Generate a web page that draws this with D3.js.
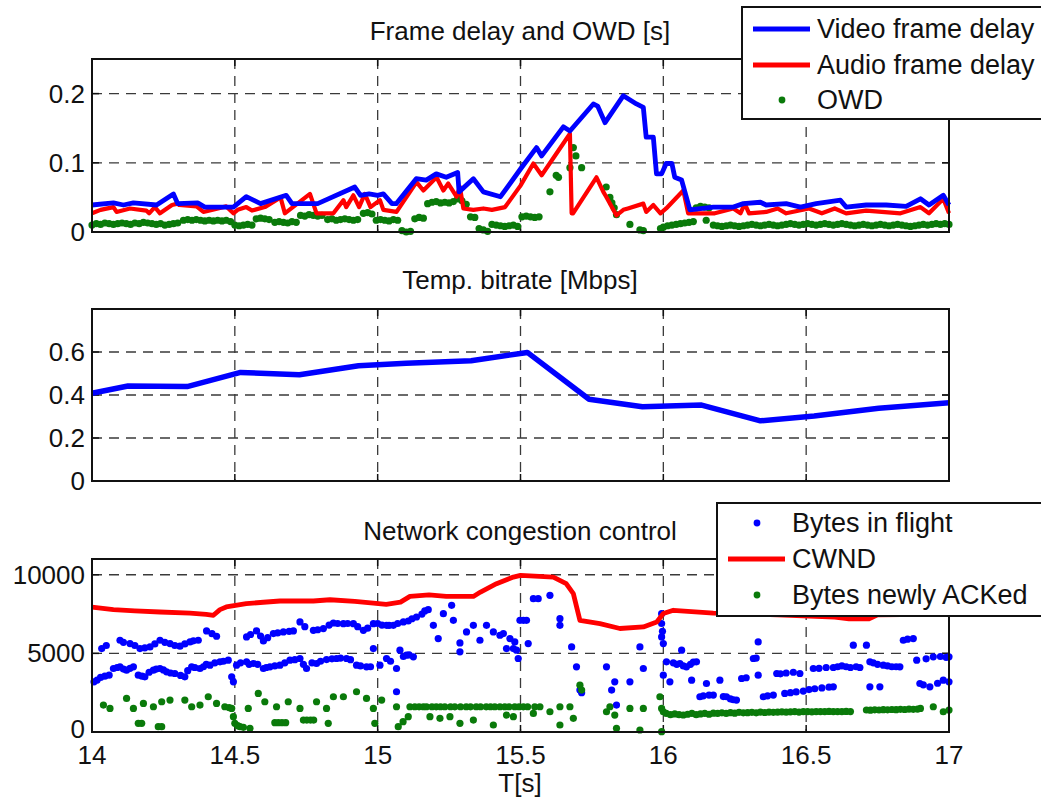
<!DOCTYPE html>
<meta charset="utf-8">
<style>
body { margin: 0; background: #fff; }
svg text { font-family: "Liberation Sans", Arial, Helvetica, sans-serif; fill: #111; }
.grid line { stroke: #3a3a3a; stroke-width: 1.3; stroke-dasharray: 10,7; }
</style>
<svg width="1041" height="798"></svg>
<script src="https://d3js.org/d3.v7.min.js"></script>
<script>

// ---- shared x axis
var xTicks = [14, 14.5, 15, 15.5, 16, 16.5, 17];

// ---- panel 1: frame delay and OWD [s]
var videoT = [14.00, 14.075, 14.11, 14.145, 14.226, 14.285, 14.30, 14.37, 14.395, 14.495, 14.54, 14.59, 14.68, 14.70, 14.79, 14.92, 14.94, 14.97, 15.00, 15.02, 15.05, 15.065, 15.135, 15.17, 15.205, 15.24, 15.28, 15.285, 15.335, 15.37, 15.43, 15.50, 15.556, 15.574, 15.65, 15.673, 15.755, 15.77, 15.796, 15.86, 15.906, 15.93, 15.94, 15.965, 15.976, 15.994, 16.01, 16.03, 16.04, 16.064, 16.093, 16.175, 16.245, 16.28, 16.34, 16.36, 16.43, 16.48, 16.535, 16.62, 16.64, 16.71, 16.78, 16.85, 16.90, 16.93, 16.98, 17.00];
var videoDelay = [0.039, 0.042, 0.039, 0.042, 0.039, 0.055, 0.041, 0.042, 0.036, 0.036, 0.051, 0.041, 0.053, 0.041, 0.041, 0.065, 0.053, 0.055, 0.053, 0.055, 0.041, 0.041, 0.077, 0.075, 0.084, 0.079, 0.086, 0.058, 0.077, 0.058, 0.051, 0.091, 0.122, 0.110, 0.152, 0.146, 0.185, 0.182, 0.158, 0.197, 0.185, 0.180, 0.137, 0.137, 0.084, 0.084, 0.099, 0.099, 0.079, 0.075, 0.032, 0.036, 0.036, 0.041, 0.043, 0.039, 0.041, 0.036, 0.041, 0.046, 0.036, 0.039, 0.039, 0.037, 0.048, 0.039, 0.053, 0.039];

var audioT = [14.00, 14.03, 14.075, 14.086, 14.133, 14.19, 14.20, 14.22, 14.238, 14.28, 14.30, 14.305, 14.366, 14.39, 14.47, 14.495, 14.51, 14.54, 14.56, 14.605, 14.66, 14.675, 14.763, 14.786, 14.845, 14.88, 14.89, 14.915, 14.935, 14.955, 14.975, 15.008, 15.02, 15.066, 15.136, 15.16, 15.206, 15.23, 15.247, 15.276, 15.288, 15.30, 15.335, 15.37, 15.40, 15.446, 15.50, 15.545, 15.574, 15.673, 15.679, 15.684, 15.766, 15.79, 15.80, 15.836, 15.86, 15.876, 15.93, 15.94, 15.965, 15.99, 16.01, 16.07, 16.087, 16.18, 16.245, 16.27, 16.285, 16.30, 16.36, 16.40, 16.43, 16.51, 16.555, 16.60, 16.64, 16.71, 16.83, 16.90, 16.93, 16.98, 17.00];
var audioDelay = [0.027, 0.032, 0.036, 0.029, 0.034, 0.031, 0.027, 0.036, 0.027, 0.039, 0.041, 0.039, 0.037, 0.029, 0.037, 0.027, 0.032, 0.036, 0.031, 0.036, 0.050, 0.027, 0.055, 0.027, 0.027, 0.046, 0.036, 0.053, 0.036, 0.055, 0.036, 0.046, 0.032, 0.029, 0.072, 0.060, 0.079, 0.060, 0.070, 0.051, 0.065, 0.034, 0.032, 0.034, 0.032, 0.036, 0.067, 0.099, 0.082, 0.142, 0.027, 0.027, 0.079, 0.058, 0.051, 0.024, 0.032, 0.034, 0.041, 0.029, 0.039, 0.027, 0.034, 0.060, 0.027, 0.027, 0.034, 0.027, 0.041, 0.027, 0.029, 0.034, 0.027, 0.034, 0.027, 0.034, 0.027, 0.031, 0.027, 0.036, 0.027, 0.048, 0.027];

var owdPoints = [
  [14.000,.010],[14.015,.012],[14.030,.011],[14.045,.013],[14.060,.012],[14.075,.011],[14.090,.012],[14.105,.013],[14.120,.012],[14.135,.011],
  [14.150,.013],[14.165,.012],[14.180,.014],[14.195,.013],[14.210,.012],[14.225,.011],[14.240,.012],[14.255,.010],[14.270,.011],[14.285,.012],
  [14.300,.013],[14.320,.017],[14.335,.018],[14.350,.017],[14.365,.018],[14.380,.017],[14.395,.016],[14.410,.017],[14.425,.016],[14.440,.017],
  [14.455,.016],[14.470,.017],[14.485,.015],[14.500,.010],[14.515,.009],[14.530,.010],[14.545,.011],[14.560,.010],[14.575,.019],[14.590,.020],
  [14.605,.019],[14.620,.018],[14.640,.014],[14.655,.015],[14.670,.014],[14.685,.013],[14.700,.015],[14.715,.014],[14.730,.024],[14.745,.023],
  [14.760,.025],[14.775,.024],[14.790,.023],[14.805,.024],[14.825,.018],[14.840,.019],[14.855,.017],[14.870,.018],[14.885,.019],[14.900,.018],
  [14.915,.017],[14.930,.018],[14.950,.027],[14.965,.028],[14.980,.026],[14.995,.017],[15.010,.018],[15.025,.017],[15.040,.016],[15.055,.018],
  [15.070,.017],[15.085,.002],[15.100,.000],[15.115,.001],[15.130,.019],[15.145,.021],[15.160,.020],[15.175,.041],[15.190,.043],[15.205,.044],
  [15.220,.042],[15.235,.043],[15.250,.042],[15.265,.044],[15.280,.048],[15.295,.045],[15.310,.040],[15.325,.022],[15.340,.021],[15.355,.005],
  [15.370,.003],[15.385,.001],[15.400,.011],[15.415,.010],[15.430,.009],[15.445,.008],[15.460,.009],[15.475,.010],[15.490,.008],[15.505,.022],
  [15.520,.023],[15.535,.022],[15.550,.021],[15.565,.022],[15.603,.058],[15.625,.082],[15.633,.079],[15.673,.093],[15.685,.122],[15.694,.110],
  [15.714,.093],[15.800,.065],[15.813,.050],[15.820,.042],[15.828,.035],[15.836,.025],[15.883,.011],[15.918,.003],[15.930,.002],[15.990,.005],
  [16.000,.007],[16.015,.009],[16.030,.010],[16.045,.011],[16.060,.012],[16.075,.013],[16.090,.014],[16.105,.015],[16.115,.035],[16.130,.037],
  [16.145,.036],[16.160,.035],[16.150,.017],[16.175,.010],[16.190,.009],[16.205,.008],[16.220,.009],[16.235,.010],[16.250,.009],[16.265,.008],
  [16.280,.009],[16.295,.010],[16.310,.011],[16.325,.010],[16.340,.009],[16.355,.010],[16.370,.011],[16.385,.010],[16.400,.009],[16.415,.010],
  [16.430,.011],[16.445,.012],[16.460,.011],[16.475,.010],[16.490,.011],[16.505,.012],[16.520,.011],[16.535,.010],[16.550,.011],[16.565,.012],
  [16.580,.011],[16.595,.010],[16.610,.011],[16.625,.012],[16.640,.011],[16.655,.010],[16.670,.009],[16.685,.010],[16.700,.011],[16.715,.010],
  [16.730,.009],[16.745,.010],[16.760,.011],[16.775,.010],[16.790,.009],[16.805,.010],[16.820,.011],[16.835,.010],[16.850,.009],[16.865,.008],
  [16.880,.009],[16.895,.010],[16.910,.011],[16.925,.010],[16.940,.011],[16.955,.012],[16.970,.011],[16.985,.012],[17.000,.011]
];

// ---- panel 2: temp. bitrate [Mbps]
var rateT = [14.0, 14.126, 14.333, 14.52, 14.726, 14.933, 15.10, 15.327, 15.524, 15.74, 15.927, 16.134, 16.34, 16.528, 16.754, 17.0];
var bitrate = [0.408, 0.442, 0.439, 0.505, 0.494, 0.536, 0.548, 0.559, 0.598, 0.380, 0.345, 0.353, 0.280, 0.302, 0.338, 0.364];

// ---- panel 3: network congestion control
var cwndT = [14.0, 14.075, 14.15, 14.238, 14.343, 14.40, 14.425, 14.448, 14.47, 14.54, 14.60, 14.658, 14.775, 14.833, 14.92, 14.985, 15.03, 15.08, 15.113, 15.18, 15.24, 15.335, 15.36, 15.416, 15.475, 15.50, 15.615, 15.66, 15.685, 15.708, 15.778, 15.848, 15.93, 15.977, 16.0, 16.035, 16.175, 16.4, 16.6, 16.65, 16.72, 16.75, 17.0];
var cwnd = [7945, 7780, 7700, 7630, 7560, 7480, 7420, 7780, 7950, 8160, 8250, 8330, 8330, 8410, 8300, 8200, 8120, 8260, 8620, 8720, 8620, 8620, 8900, 9430, 9850, 9960, 9850, 9430, 8800, 7100, 6890, 6580, 6680, 6990, 7530, 7740, 7560, 7450, 7300, 7200, 7200, 7450, 7500];

var flightPoints = [
  [14.007,3191],[14.018,3300],[14.03,3467],[14.045,3550],[14.06,3614],[14.075,4037],[14.088,4100],[14.098,4143],[14.11,4000],[14.121,3932],
  [14.133,4050],[14.145,4143],[14.162,3614],[14.175,3550],[14.185,3509],[14.2,3800],[14.215,3932],[14.225,4000],[14.238,4037],[14.25,3950],
  [14.261,3826],[14.275,3750],[14.29,3720],[14.31,3600],[14.325,3509],[14.335,3900],[14.349,4143],[14.36,4100],[14.378,4037],[14.39,4150],
  [14.40,4300],[14.413,4249],[14.43,4400],[14.448,4460],[14.46,4500],[14.477,4566],[14.489,3509],[14.495,3191],[14.506,4249],[14.52,4400],
  [14.541,4460],[14.55,4300],[14.565,4355],[14.58,4300],[14.6,4037],[14.61,4100],[14.623,4143],[14.64,4200],[14.658,4249],[14.675,4400],
  [14.693,4566],[14.71,4600],[14.728,4672],[14.74,4300],[14.751,4037],[14.77,4400],[14.786,4355],[14.8,4500],[14.821,4608],[14.84,4650],
  [14.856,4672],[14.87,4700],[14.891,4672],[14.905,4600],[14.926,4249],[14.94,4200],[14.961,4143],[14.975,4150],[14.985,5306],[15.008,4249],
  [15.031,4672],[15.045,4500],[15.066,4037],[15.066,2558],[15.078,5200],[15.09,4800],[15.101,4883],[15.11,4900],[15.125,4777],
  [14.034,5306],[14.05,5500],[14.098,5834],[14.11,5700],[14.133,5623],[14.15,5500],[14.168,5306],[14.185,5350],[14.203,5412],[14.22,5600],
  [14.238,5834],[14.255,5700],[14.273,5623],[14.29,5500],[14.308,5454],[14.325,5600],[14.343,5729],[14.355,5800],[14.372,5834],[14.401,6425],
  [14.42,6250],[14.436,6087],[14.541,6045],[14.555,6200],[14.576,6425],[14.59,6100],[14.6,5792],[14.615,6000],[14.635,6256],[14.65,6300],
  [14.67,6362],[14.69,6400],[14.705,6425],[14.728,6996],[14.745,6700],[14.775,6468],[14.79,6500],[14.81,6573],[14.83,6800],[14.845,6932],
  [14.86,6900],[14.88,6890],[14.895,6900],[14.915,6890],[14.93,6700],[14.95,6468],[14.965,6600],[14.985,6890],[15.0,6900],[15.015,6800],
  [15.031,6784],[15.04,6780],[15.055,6784],[15.07,6900],[15.09,7000],[15.107,7059],[15.12,7200],[15.136,7313],[15.155,7500],[15.165,7700],
  [15.177,7778],[15.195,6784],[15.212,5940],[15.23,7524],[15.259,8053],[15.265,7102],[15.288,5665],[15.288,5095],[15.311,6362],[15.335,6784],
  [15.358,5834],[15.381,6784],[15.405,6362],[15.428,6151],[15.44,6256],[15.451,5306],[15.463,5940],[15.475,5306],[15.48,5729],[15.486,5200],
  [15.492,4672],[15.498,7102],[15.51,7100],[15.521,7100],[15.527,5623],[15.545,8476],[15.562,8476],[15.603,8688],[15.638,7207],[15.638,6784],
  [15.679,5412],[15.696,4143],[15.708,2663],[15.714,2500],[15.801,4143],[15.819,2663],[15.83,3191],[15.836,1712],[15.883,3191],[15.918,5412],
  [15.93,4037],[15.994,7524],[15.994,6900],[15.997,6400],[15.994,6045],[16.0,5623],[16.0,3614],[16.011,4460],[16.023,3191],[16.035,4400],
  [16.047,4300],[16.058,4355],[16.064,5200],[16.07,4200],[16.081,4143],[16.095,4300],[16.099,3297],[16.105,4450],[16.116,4460],[16.128,2240],
  [16.14,2300],[16.151,3085],[16.16,2350],[16.175,2346],[16.198,3297],[16.21,2250],[16.221,2240],[16.235,2100],[16.245,2050],[16.256,2029],
  [16.274,3403],[16.29,3450],[16.315,4672],[16.325,4700],[16.332,5729],[16.332,3614],[16.35,2240],[16.365,2300],[16.385,2350],[16.397,3720],
  [16.41,3700],[16.425,2452],[16.43,3750],[16.445,2500],[16.455,3800],[16.465,2550],[16.478,3720],[16.49,2600],[16.51,2700],[16.525,4037],
  [16.53,2750],[16.545,4050],[16.555,2800],[16.57,4100],[16.58,2850],[16.595,4100],[16.595,2875],[16.61,4150],[16.625,4200],[16.64,4150],
  [16.655,4100],[16.665,5518],[16.675,4150],[16.688,4100],[16.711,5518],[16.723,4460],[16.723,2875],[16.735,4400],[16.75,4300],[16.758,2875],
  [16.77,4249],[16.785,4200],[16.8,4150],[16.815,4150],[16.828,4143],[16.84,5834],[16.855,5900],[16.875,5940],[16.887,4566],[16.898,3085],
  [16.91,3000],[16.92,4650],[16.933,2875],[16.945,4777],[16.96,3100],[16.97,4800],[16.98,3297],[16.99,4750],[17.0,4777],[17.0,3191]
];

var ackedPoints = [
  [14.04,1712],[14.063,1500],[14.121,2135],[14.145,1500],[14.162,550],[14.174,550],[14.18,1818],[14.215,1606],[14.232,338],[14.244,338],
  [14.244,1923],[14.273,2029],[14.325,2029],[14.349,1606],[14.378,1712],[14.407,2240],[14.436,1818],[14.465,1606],[14.48,1550],[14.489,1500],
  [14.495,973],[14.5,550],[14.51,400],[14.518,338],[14.53,300],[14.553,233],[14.547,1500],[14.582,2452],[14.605,1923],[14.646,1606],
  [14.64,592],[14.652,592],[14.665,592],[14.678,592],[14.687,1923],[14.728,1500],[14.74,761],[14.752,761],[14.765,761],[14.776,761],
  [14.786,1923],[14.821,1500],[14.827,550],[14.845,2240],[14.88,2240],[14.926,2558],[14.961,2135],[14.985,1500],[14.99,550],[15.014,2029],
  [15.066,1606],[15.072,338],[15.089,655],[15.107,973],[15.113,1606],[15.13,1606],[15.145,1600],[15.16,1606],[15.171,1606],[15.183,973],
  [15.19,1606],[15.205,1600],[15.218,867],[15.22,1606],[15.235,1606],[15.253,973],[15.255,1606],[15.27,1600],[15.288,550],[15.29,1606],
  [15.31,1606],[15.325,1600],[15.335,761],[15.345,1606],[15.36,1606],[15.38,1600],[15.395,1606],[15.405,444],[15.41,1606],[15.428,1606],
  [15.445,1606],[15.451,1078],[15.46,1606],[15.475,973],[15.48,1606],[15.495,1606],[15.51,1600],[15.525,1606],[15.545,1183],[15.55,1606],
  [15.568,1606],[15.603,1289],[15.638,1606],[15.638,444],[15.673,1606],[15.685,867],[15.708,2980],[15.714,2663],[15.801,1289],[15.813,1606],
  [15.83,1078],[15.836,233],[15.883,1500],[15.918,127],[15.93,1500],[15.988,2240],[15.994,1500],[15.994,21],
  [16.0,1289],[16.01,1180],[16.025,1100],[16.04,1150],[16.055,1100],[16.07,1080],[16.085,1130],[16.1,1180],[16.115,1100],[16.13,1150],
  [16.145,1180],[16.16,1130],[16.175,1200],[16.19,1180],[16.205,1220],[16.22,1180],[16.235,1230],[16.25,1200],[16.265,1250],[16.28,1220],
  [16.295,1230],[16.31,1250],[16.325,1220],[16.34,1260],[16.355,1240],[16.37,1270],[16.385,1250],[16.4,1260],[16.415,1280],[16.43,1260],
  [16.445,1280],[16.46,1290],[16.475,1270],[16.49,1290],[16.505,1300],[16.52,1280],[16.535,1290],[16.55,1300],[16.565,1290],[16.58,1310],
  [16.595,1290],[16.61,1300],[16.625,1290],[16.64,1310],[16.655,1300],[16.711,1400],[16.725,1390],[16.74,1410],[16.755,1400],[16.77,1420],
  [16.785,1410],[16.8,1430],[16.815,1420],[16.83,1440],[16.845,1430],[16.86,1450],[16.875,1440],[16.89,1460],[16.9,1500],[16.945,1606],
  [16.98,1289],[17.0,1395]
];

var svg = d3.select("svg");
var font = 26;

var x = d3.scaleLinear().domain([14, 17]).range([92, 949]);

var panels = [
  { top: 59, bottom: 232, domain: [0, 0.25], ticks: [0, 0.1, 0.2], title: "Frame delay and OWD [s]", titleY: 40 },
  { top: 309, bottom: 481, domain: [0, 0.8], ticks: [0, 0.2, 0.4, 0.6], title: "Temp. bitrate [Mbps]", titleY: 289 },
  { top: 559, bottom: 732, domain: [0, 11000], ticks: [0, 5000, 10000], title: "Network congestion control", titleY: 540 }
];

panels.forEach(function(p, i) {
  p.y = d3.scaleLinear().domain(p.domain).range([p.bottom, p.top]);

  var g = svg.append("g");
  var grid = g.append("g").attr("class", "grid");
  grid.selectAll(".vx").data(xTicks.slice(1, -1)).enter().append("line")
      .attr("x1", x).attr("x2", x).attr("y1", p.top).attr("y2", p.bottom);
  grid.selectAll(".hy").data(p.ticks.filter(function(t) { return t > p.domain[0]; })).enter().append("line")
      .attr("x1", 92).attr("x2", 949).attr("y1", p.y).attr("y2", p.y);

  // inward tick marks like matlab
  var tk = g.append("g").attr("stroke", "#111").attr("stroke-width", 1.5);
  xTicks.forEach(function(t) {
    tk.append("line").attr("x1", x(t)).attr("x2", x(t)).attr("y1", p.bottom).attr("y2", p.bottom - 7);
    tk.append("line").attr("x1", x(t)).attr("x2", x(t)).attr("y1", p.top).attr("y2", p.top + 7);
  });
  p.ticks.forEach(function(t) {
    tk.append("line").attr("x1", 92).attr("x2", 99).attr("y1", p.y(t)).attr("y2", p.y(t));
    tk.append("line").attr("x1", 949).attr("x2", 942).attr("y1", p.y(t)).attr("y2", p.y(t));
  });

  // the bottom-most "0" sits a touch higher so it clears the x tick labels
  g.selectAll(".ylab").data(p.ticks).enter().append("text")
      .attr("x", 85).attr("y", function(d) { return p.y(d) - (i === 2 && d === 0 ? 3 : 0); })
      .attr("dy", "0.35em")
      .attr("text-anchor", "end").style("font-size", font + "px")
      .text(function(d) { return String(d); });

  g.append("text").attr("x", 520).attr("y", p.titleY)
      .attr("text-anchor", "middle").style("font-size", font + "px")
      .text(p.title);

  p.g = g;
});

function xy(p) {
  return d3.line().x(function(d) { return x(d[0]); }).y(function(d) { return p.y(d[1]); });
}
function zip(a, b) { return a.map(function(t, i) { return [t, b[i]]; }); }

var p1 = panels[0], p2 = panels[1], p3 = panels[2];

// panel 1 marks
p1.g.append("g").selectAll("circle").data(owdPoints).enter().append("circle")
    .attr("cx", function(d) { return x(d[0]); }).attr("cy", function(d) { return p1.y(d[1]); })
    .attr("r", 3.6).attr("fill", "#0a7a0a");
p1.g.append("path").datum(zip(audioT, audioDelay)).attr("d", xy(p1))
    .attr("fill", "none").attr("stroke", "#ff0000").attr("stroke-width", 4.2).attr("stroke-linejoin", "round");
p1.g.append("path").datum(zip(videoT, videoDelay)).attr("d", xy(p1))
    .attr("fill", "none").attr("stroke", "#0000ff").attr("stroke-width", 4.8).attr("stroke-linejoin", "round");

// panel 2 marks
p2.g.append("path").datum(zip(rateT, bitrate)).attr("d", xy(p2))
    .attr("fill", "none").attr("stroke", "#0000ff").attr("stroke-width", 5.5).attr("stroke-linejoin", "round");

// panel 3 marks
p3.g.append("g").selectAll("circle").data(flightPoints).enter().append("circle")
    .attr("cx", function(d) { return x(d[0]); }).attr("cy", function(d) { return p3.y(d[1]); })
    .attr("r", 3.6).attr("fill", "#0000ff");
p3.g.append("path").datum(zip(cwndT, cwnd)).attr("d", xy(p3))
    .attr("fill", "none").attr("stroke", "#ff0000").attr("stroke-width", 4.8).attr("stroke-linejoin", "round");
p3.g.append("g").selectAll("circle").data(ackedPoints).enter().append("circle")
    .attr("cx", function(d) { return x(d[0]); }).attr("cy", function(d) { return p3.y(d[1]); })
    .attr("r", 3.6).attr("fill", "#0a7a0a");

// axes boxes on top
panels.forEach(function(p) {
  svg.append("rect").attr("x", 92).attr("y", p.top).attr("width", 857).attr("height", p.bottom - p.top)
      .attr("fill", "none").attr("stroke", "#111").attr("stroke-width", 2);
});

// x tick labels, bottom panel only
svg.selectAll(".xlab").data(xTicks).enter().append("text")
    .attr("x", x).attr("y", 764).attr("text-anchor", "middle").style("font-size", font + "px")
    .text(function(d) { return String(d); });
svg.append("text").attr("x", 520).attr("y", 792).attr("text-anchor", "middle")
    .style("font-size", font + "px").text("T[s]");

// legends
function legend(x0, y0, w, h, items) {
  var lg = svg.append("g");
  lg.append("rect").attr("x", x0).attr("y", y0).attr("width", w).attr("height", h)
      .attr("fill", "#fff").attr("stroke", "#111").attr("stroke-width", 2);
  items.forEach(function(it) {
    if (it.kind === "line") {
      lg.append("line").attr("x1", x0 + 11).attr("x2", x0 + 68).attr("y1", it.y).attr("y2", it.y)
          .attr("stroke", it.color).attr("stroke-width", 4.8);
    } else {
      lg.append("circle").attr("cx", x0 + 40).attr("cy", it.y).attr("r", 3.4).attr("fill", it.color);
    }
    lg.append("text").attr("x", x0 + 75).attr("y", it.y).attr("dy", "0.35em")
        .style("font-size", "27px").text(it.label);
  });
}

legend(742, 7, 300, 112, [
  { kind: "line", color: "#0000ff", y: 29, label: "Video frame delay" },
  { kind: "line", color: "#ff0000", y: 65, label: "Audio frame delay" },
  { kind: "dot", color: "#0a7a0a", y: 100, label: "OWD" }
]);

legend(717, 503, 325, 113, [
  { kind: "dot", color: "#0000ff", y: 523, label: "Bytes in flight" },
  { kind: "line", color: "#ff0000", y: 559, label: "CWND" },
  { kind: "dot", color: "#0a7a0a", y: 595, label: "Bytes newly ACKed" }
]);

</script>
